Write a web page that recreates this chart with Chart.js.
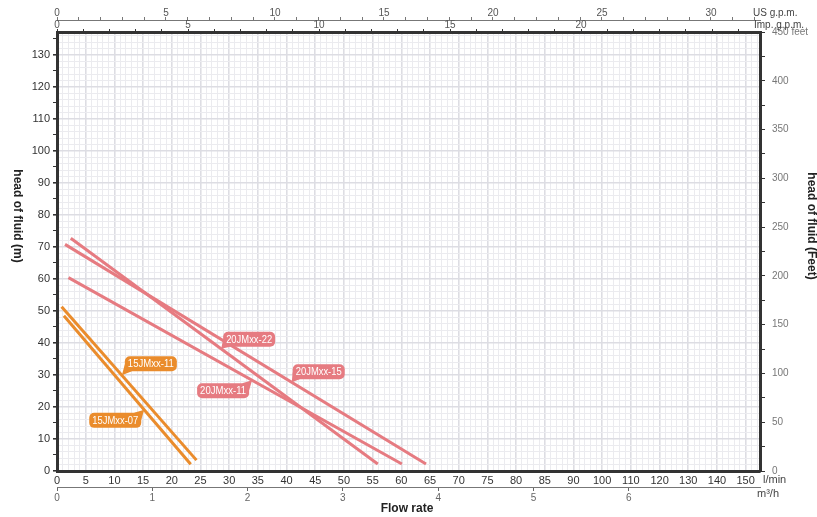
<!DOCTYPE html>
<html>
<head>
<meta charset="utf-8">
<script src="https://cdn.jsdelivr.net/npm/chart.js@4.4.1/dist/chart.umd.min.js"></script>
<style>
  html, body { margin: 0; padding: 0; background: #fff; }
  #wrap { width: 817px; height: 517px; }
</style>
</head>
<body>
<div id="wrap"><canvas id="pumpChart" width="817" height="517"></canvas></div>
<script>
// bottom axis: l/min ticks (the spacing is even, but the step changes after 90)
const flowTicks = [0, 5, 10, 15, 20, 25, 30, 35, 40, 45, 50, 55, 60, 65, 70, 75, 80, 85, 90, 100, 110, 120, 130, 140, 150];
const m3hTicks = [0, 1, 2, 3, 4, 5, 6];
const usGpmLabels = [0, 5, 10, 15, 20, 25, 30];
const impGpmLabels = [0, 5, 10, 15, 20];

// pump curves: flow (l/min) and head (m) at start/end of each line
const names = ['15JMxx-11', '15JMxx-07', '20JMxx-22', '20JMxx-15', '20JMxx-11'];
const flow_15JMxx_11 = [0.8, 24.3];
const head_15JMxx_11 = [51.3, 3.4];
const flow_15JMxx_07 = [1.2, 23.3];
const head_15JMxx_07 = [48.5, 2.1];
const flow_20JMxx_22 = [2.4, 55.9];
const head_20JMxx_22 = [72.7, 2.2];
const flow_20JMxx_15 = [1.4, 64.3];
const head_20JMxx_15 = [70.8, 2.2];
const flow_20JMxx_11 = [2.0, 60.1];
const head_20JMxx_11 = [60.4, 2.2];

const flows = [flow_15JMxx_11, flow_15JMxx_07, flow_20JMxx_22, flow_20JMxx_15, flow_20JMxx_11];
const heads = [head_15JMxx_11, head_15JMxx_07, head_20JMxx_22, head_20JMxx_15, head_20JMxx_11];

const ORANGE = '#ea8c2c';
const PINK = '#e67b81';
const colors = [ORANGE, ORANGE, PINK, PINK, PINK];

// where each name bubble points (flow on its line) and where the box sits
const bubbles = [
    { s: 0, at: 11.3, dx: 3, dy: -19 },
    { s: 1, at: 15.2, dx: -55, dy: 3 },
    { s: 2, at: 28.6, dx: 2, dy: -17 },
    { s: 3, at: 40.9, dx: 1, dy: -18 },
    { s: 4, at: 34.0, dx: -55, dy: 3 },
];

const FONT = '"Liberation Sans Narrow", "Arial Narrow", "Liberation Sans", sans-serif';
Chart.defaults.font.family = FONT;
Chart.defaults.font.size = 11;

// l/min -> position on the evenly spaced tick axis
function flowPos(l) {
    for (let i = 0; i < flowTicks.length - 1; i++) {
        if (l <= flowTicks[i + 1]) {
            return i + (l - flowTicks[i]) / (flowTicks[i + 1] - flowTicks[i]);
        }
    }
    return flowTicks.length - 1;
}

function isWhole(v) { return Math.abs(v - Math.round(v)) < 1e-6; }

const datasets = names.map((n, i) => ({
    label: n,
    data: flows[i].map((f, k) => ({ x: flowPos(f), y: heads[i][k] })),
    borderColor: colors[i],
    borderWidth: 3,
    pointRadius: 0,
    fill: false,
    tension: 0,
}));

const GRID_MINOR = '#ebebef';
const GRID_MAJOR = '#dddde3';
const FRAME = '#333';

function fixHeight(h) { return scale => { scale.height = h; }; }
function fixWidth(w) { return scale => { scale.width = w; }; }

const bubblePlugin = {
    id: 'bubbles',
    afterDatasetsDraw(chart) {
        const ctx = chart.ctx;
        const xs = chart.scales.x, ys = chart.scales.y;
        bubbles.forEach(b => {
            const f = flows[b.s], h = heads[b.s];
            const t = (b.at - f[0]) / (f[1] - f[0]);
            const px = xs.getPixelForValue(flowPos(b.at));
            const py = ys.getPixelForValue(h[0] + t * (h[1] - h[0]));
            const w = 52, hgt = 15;
            const x0 = px + b.dx, y0 = py + b.dy;
            const cx = px < x0 + w / 2 ? x0 : x0 + w;
            const cy = py < y0 + hgt / 2 ? y0 : y0 + hgt;
            ctx.save();
            ctx.fillStyle = colors[b.s];
            ctx.beginPath();
            ctx.roundRect(x0, y0, w, hgt, 5);
            ctx.fill();
            ctx.beginPath();
            ctx.moveTo(cx, cy + (cy === y0 ? 7 : -7));
            ctx.lineTo(px, py);
            ctx.lineTo(cx + (cx === x0 ? 7 : -7), cy);
            ctx.lineTo(cx + (cx === x0 ? 3 : -3), cy + (cy === y0 ? 3 : -3));
            ctx.closePath();
            ctx.fill();
            ctx.fillStyle = '#fff';
            ctx.font = '11px ' + FONT;
            ctx.textAlign = 'center';
            ctx.textBaseline = 'middle';
            ctx.fillText(names[b.s], x0 + w / 2, y0 + hgt / 2 + 0.5, w - 6);
            ctx.restore();
        });
    }
};

const textPlugin = {
    id: 'texts',
    afterDraw(chart) {
        const ctx = chart.ctx;
        const a = chart.chartArea;
        ctx.save();
        ctx.fillStyle = '#222';
        ctx.textAlign = 'center';
        ctx.textBaseline = 'middle';
        ctx.font = 'bold 12px "Liberation Sans", sans-serif';
        ctx.save();
        ctx.translate(17, 216);
        ctx.rotate(Math.PI / 2);
        ctx.fillText('head of fluid (m)', 0, 0);
        ctx.restore();
        ctx.save();
        ctx.translate(811, 226);
        ctx.rotate(Math.PI / 2);
        ctx.fillText('head of fluid (Feet)', 0, 0);
        ctx.restore();
        ctx.fillText('Flow rate', 407, 509);

        ctx.textAlign = 'left';
        ctx.fillStyle = '#444';
        ctx.font = '11px ' + FONT;
        ctx.fillText('l/min', a.right + 3, a.bottom + 9);
        ctx.fillText('m\u00B3/h', a.right - 3, a.bottom + 23);
        ctx.font = '10px ' + FONT;
        ctx.fillText('US g.p.m.', a.right - 7, 13);
        ctx.fillText('Imp. g.p.m.', a.right - 6, 25);
        ctx.restore();
    }
};

new Chart(document.getElementById('pumpChart'), {
    type: 'line',
    data: { datasets: datasets },
    plugins: [bubblePlugin, textPlugin],
    options: {
        responsive: false,
        animation: false,
        layout: { padding: 0 },
        plugins: { legend: { display: false }, tooltip: { enabled: false } },
        scales: {
            x: {
                type: 'linear', position: 'bottom', weight: 0,
                min: 0, max: 24.5,
                afterFit: fixHeight(16),
                border: { display: true, color: FRAME, width: 3 },
                grid: {
                    drawTicks: false,
                    color: c => isWhole(c.tick.value) ? GRID_MAJOR : GRID_MINOR,
                    lineWidth: c => isWhole(c.tick.value) ? 1.6 : 1,
                },
                ticks: {
                    stepSize: 0.2, includeBounds: false, autoSkip: false, maxRotation: 0,
                    padding: 3, color: '#333',
                    callback: v => isWhole(v) && flowTicks[Math.round(v)] !== undefined ? String(flowTicks[Math.round(v)]) : '',
                },
            },
            xm3: {
                type: 'linear', position: 'bottom', weight: 1,
                min: 0, max: 7.377,
                afterFit: fixHeight(30),
                border: { display: true, color: '#777', width: 1 },
                grid: { drawOnChartArea: false, tickLength: 4, tickColor: '#666' },
                afterBuildTicks: s => { s.ticks = s.ticks.filter(t => m3hTicks.includes(t.value)); },
                ticks: {
                    stepSize: 1, includeBounds: false, autoSkip: false, maxRotation: 0,
                    padding: 1, color: '#666', font: { size: 10 },
                },
            },
            xus: {
                type: 'linear', position: 'top', weight: 1,
                min: 0, max: 32.25,
                afterFit: fixHeight(20),
                border: { display: true, color: '#777', width: 1 },
                grid: { drawOnChartArea: false, tickLength: 3, tickColor: '#777' },
                ticks: {
                    stepSize: 1, includeBounds: false, autoSkip: false, maxRotation: 0,
                    padding: -2, color: '#555', font: { size: 10 },
                    callback: v => usGpmLabels.includes(v) ? String(v) : '',
                },
            },
            ximp: {
                type: 'linear', position: 'top', weight: 0,
                min: 0, max: 26.83,
                afterFit: fixHeight(12),
                border: { display: true, color: FRAME, width: 3 },
                grid: { drawOnChartArea: false, tickLength: 3, tickColor: FRAME },
                ticks: {
                    stepSize: 1, includeBounds: false, autoSkip: false, maxRotation: 0,
                    padding: -2, color: '#555', font: { size: 10 },
                    callback: v => impGpmLabels.includes(v) ? String(v) : '',
                },
            },
            y: {
                type: 'linear', position: 'left',
                min: 0, max: 137.16,
                afterFit: fixWidth(57),
                border: { display: true, color: FRAME, width: 3 },
                grid: {
                    tickLength: 4,
                    color: c => {
                        const v = Math.round(c.tick.value);
                        if (v % 10 === 0) return GRID_MAJOR;
                        if (v % 2 === 0) return GRID_MINOR;
                        return 'rgba(0,0,0,0)';
                    },
                    lineWidth: c => Math.round(c.tick.value) % 10 === 0 ? 1.6 : 1,
                    tickColor: c => Math.round(c.tick.value) % 5 === 0 ? FRAME : 'rgba(0,0,0,0)',
                },
                ticks: {
                    stepSize: 1, includeBounds: false, autoSkip: false,
                    padding: 3, color: '#333',
                    callback: v => v % 10 === 0 ? String(v) : '',
                },
            },
            yft: {
                type: 'linear', position: 'right',
                min: 0, max: 450,
                afterFit: fixWidth(57),
                border: { display: true, color: FRAME, width: 3 },
                grid: { drawOnChartArea: false, tickLength: 5, tickColor: FRAME },
                ticks: {
                    stepSize: 25, includeBounds: false, autoSkip: false,
                    padding: 7, color: '#777', font: { size: 10 },
                    callback: v => v === 450 ? '450 feet' : (v % 50 === 0 ? String(v) : ''),
                },
            },
        },
    },
});
</script>
</body>
</html>
